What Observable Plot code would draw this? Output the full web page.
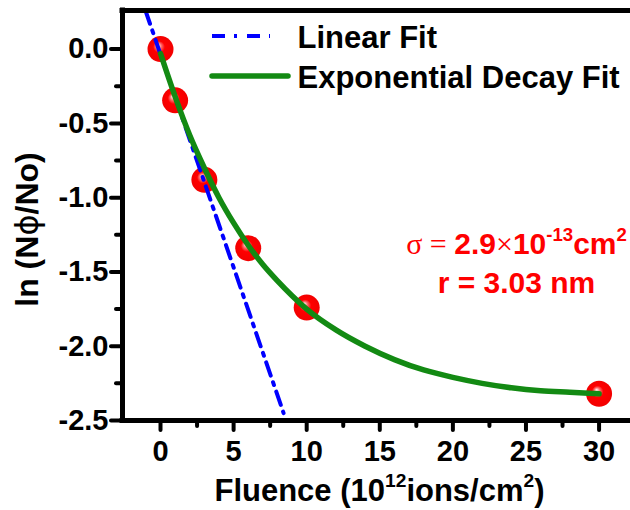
<!DOCTYPE html>
<html><head><meta charset="utf-8">
<script src="https://cdn.jsdelivr.net/npm/d3@7"></script>
<script src="https://cdn.jsdelivr.net/npm/@observablehq/plot@0.6"></script>
<style>
body{margin:0;background:#fff;}
#chart svg{display:block;}
g[aria-label="y-axis tick"], g[aria-label="x-axis tick"]{stroke-linecap:round;}
</style></head><body><div id="chart"></div>
<script>
// measured data points
const fluence = [0, 1, 3, 6, 10, 30];
const lnRatio = [0, -0.345, -0.88, -1.34, -1.74, -2.32];
// exponential decay fit curve
const fitFluence = [0, 1, 2, 3, 4, 5, 6, 7, 8, 9, 10, 12, 14, 16, 18, 20, 22, 24, 26, 28, 30];
const fitLn = [-0.03, -0.32, -0.58, -0.80, -1.00, -1.17, -1.32, -1.45, -1.56, -1.66, -1.75, -1.89, -2.00, -2.09, -2.16, -2.21, -2.25, -2.28, -2.30, -2.31, -2.32];
// linear fit line end points
const linFluence = [-1.03, 8.42];
const linLn = [0.26, -2.45];
// ticks
const xTicks = [0, 5, 10, 15, 20, 25, 30];
const xMinorTicks = [2.5, 7.5, 12.5, 17.5, 22.5, 27.5];
const yTicks = [0, -0.5, -1, -1.5, -2, -2.5];
const yMinorTicks = [-0.25, -0.75, -1.25, -1.75, -2.25];
// texts
const legendLabels = ["Linear Fit", "Exponential Decay Fit"];
const xLabel = "Fluence (10^{12}ions/cm^{2})";
const yLabel = "ln (N~{ϕ}/No)";
const notes = ["`{σ = }2.9`{×}10^{-13}cm^{2}", "r = 3.03 nm"];

const points = fluence.map((x, i) => ({x, y: lnRatio[i]}));
const fit = fitFluence.map((x, i) => ({x, y: fitLn[i]}));
const lin = linFluence.map((x, i) => ({x, y: linLn[i]}));

const RED = "#ff0000", BLUE = "#0000ff", GREEN = "#138a13";
const FONT = "'Liberation Sans', Arial, sans-serif";

const plot = Plot.plot({
  width: 630, height: 510,
  marginLeft: 122, marginRight: 0, marginTop: 10, marginBottom: 90,
  style: {fontFamily: FONT, fontWeight: "bold", color: "black", background: "white", overflow: "visible"},
  x: {domain: [-2.6, 32.15]},
  y: {domain: [-2.5, 0.26]},
  marks: [
    Plot.axisX(xMinorTicks, {tickSize: 6, strokeWidth: 4, text: null, label: null}),
    Plot.axisX(xTicks, {tickSize: 10, tickPadding: 10, strokeWidth: 4, fontSize: 29, fontWeight: "bold", tickFormat: d => String(d), label: null}),
    Plot.axisY(yMinorTicks, {tickSize: 6, strokeWidth: 4, text: null, label: null}),
    Plot.axisY(yTicks, {tickSize: 11, tickPadding: 3, strokeWidth: 4, fontSize: 29, fontWeight: "bold", tickFormat: d => d.toFixed(1), label: null}),
    Plot.dot(points, {x: "x", y: "y", r: 13, fill: "url(#ball)", stroke: "none"}),
    Plot.line(lin, {x: "x", y: "y", stroke: BLUE, strokeWidth: 4, strokeDasharray: "14,7,3,7"}),
    Plot.line(fit, {x: "x", y: "y", stroke: GREEN, strokeWidth: 5.5, curve: "monotone-x"}),
    Plot.ruleX([-2.6], {stroke: "black", strokeWidth: 5, strokeLinecap: "square"}),
    Plot.ruleY([0.26], {stroke: "black", strokeWidth: 5, strokeLinecap: "square"}),
    Plot.ruleY([-2.5], {stroke: "black", strokeWidth: 5, strokeLinecap: "square"}),
    Plot.text([legendLabels[0]], {text: d => d, frameAnchor: "top-left", dx: 175, dy: 37, lineAnchor: "bottom", textAnchor: "start", fontSize: 31, fontWeight: "bold", fill: "black"}),
    Plot.text([legendLabels[1]], {text: d => d, frameAnchor: "top-left", dx: 175, dy: 77, lineAnchor: "bottom", textAnchor: "start", fontSize: 31, fontWeight: "bold", fill: "black"}),
    Plot.text([notes[0]], {text: d => d, frameAnchor: "top-left", dx: 394, dy: 243, lineAnchor: "bottom", textAnchor: "middle", fontSize: 30, fontWeight: "bold", fill: RED}),
    Plot.text([notes[1]], {text: d => d, frameAnchor: "top-left", dx: 394, dy: 282, lineAnchor: "bottom", textAnchor: "middle", fontSize: 30, fontWeight: "bold", fill: RED}),
    Plot.text([xLabel], {text: d => d, frameAnchor: "bottom", dx: 3, dy: 80, lineAnchor: "bottom", textAnchor: "middle", fontSize: 31, fontWeight: "bold", fill: "black"}),
    Plot.text([yLabel], {text: d => d, frameAnchor: "left", rotate: -90, dx: -85, dy: 14, lineAnchor: "bottom", textAnchor: "middle", fontSize: 32, fontWeight: "bold", fill: "black"})
  ]
});

document.getElementById("chart").appendChild(plot);
const svg = d3.select(plot);

// sphere gradient for markers
const defs = svg.insert("defs", ":first-child");
const g = defs.append("radialGradient").attr("id", "ball")
  .attr("cx", "0.5").attr("cy", "0.5").attr("r", "0.5").attr("fx", "0.4").attr("fy", "0.35");
g.append("stop").attr("offset", "0").attr("stop-color", "#ffffff");
g.append("stop").attr("offset", "0.22").attr("stop-color", "#ff7070");
g.append("stop").attr("offset", "0.45").attr("stop-color", "#ff0000");
g.append("stop").attr("offset", "1").attr("stop-color", "#f20000");

// rich text: ^{..} superscript, ~{..} sans symbol, `{..} serif symbol (normal weight)
const NS = "http://www.w3.org/2000/svg";
svg.selectAll("text").each(function() {
  const str = this.textContent;
  if (!/[\^~`]\{/.test(str)) return;
  const fs = parseFloat(getComputedStyle(this).fontSize) || 30;
  this.textContent = "";
  const parts = str.split(/(\^\{[^}]*\}|~\{[^}]*\}|`\{[^}]*\})/).filter(s => s.length);
  let raised = false;
  for (const p of parts) {
    const ts = document.createElementNS(NS, "tspan");
    if (p.startsWith("^{")) {
      ts.textContent = p.slice(2, -1);
      ts.setAttribute("font-size", (fs * 0.62) + "px");
      ts.setAttribute("dy", (-fs * 0.42) + "px");
      raised = true;
    } else {
      let t = p;
      if (p.startsWith("~{") || p.startsWith("`{")) {
        t = p.slice(2, -1);
        ts.setAttribute("font-family", p[0] === "~" ? "'DejaVu Sans', sans-serif" : "'Liberation Serif', 'Times New Roman', serif");
        ts.setAttribute("font-weight", "normal");
      }
      ts.textContent = t;
      if (raised) { ts.setAttribute("dy", (fs * 0.42) + "px"); raised = false; }
    }
    this.appendChild(ts);
  }
});

// legend samples (frame-relative pixel layout)
const leg = svg.append("g");
leg.append("line").attr("x1", 212).attr("x2", 270).attr("y1", 36).attr("y2", 36)
  .attr("stroke", BLUE).attr("stroke-width", 4).attr("stroke-dasharray", "13,9,3,10");
leg.append("line").attr("x1", 212).attr("x2", 288).attr("y1", 76).attr("y2", 76)
  .attr("stroke", GREEN).attr("stroke-width", 5.5).attr("stroke-linecap", "round");
</script>
</body></html>
